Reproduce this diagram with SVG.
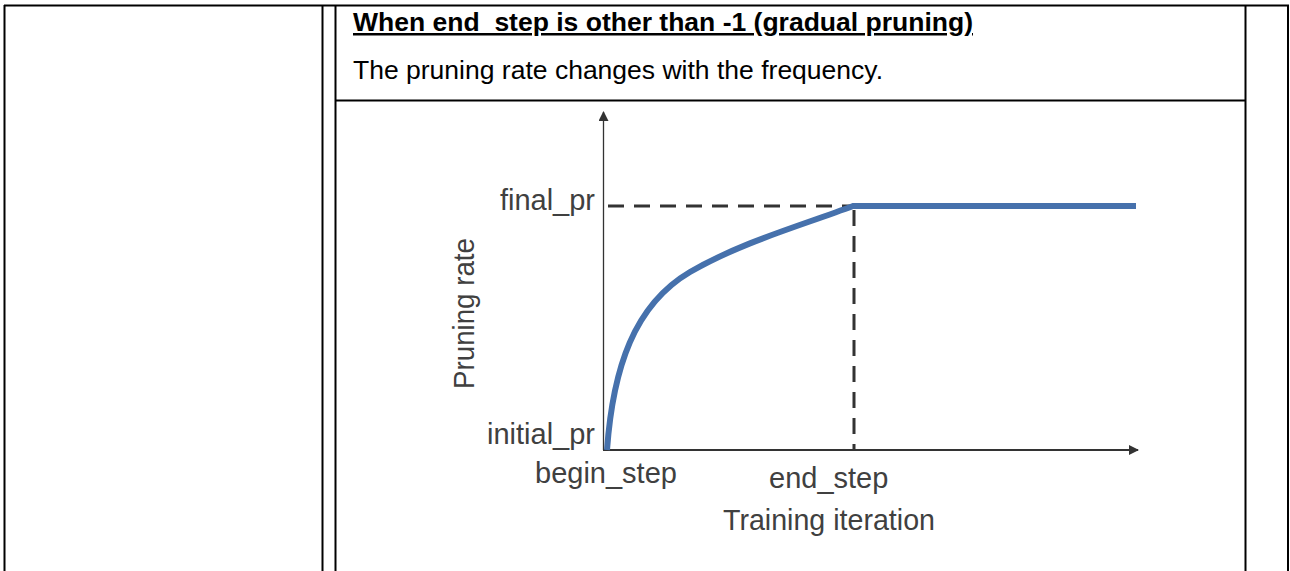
<svg xmlns="http://www.w3.org/2000/svg" width="1290" height="571" viewBox="0 0 1290 571">
<style>
.tbl{stroke:#000;stroke-width:2;fill:none}
.hdr{font-family:"Liberation Sans",Arial,sans-serif;fill:#000}
.lbl{font-family:"Liberation Sans",Arial,sans-serif;font-size:29px;fill:#404040}
.axis{stroke:#333;fill:none}
.dash{stroke:#333;stroke-width:3;stroke-dasharray:16 10;fill:none}
.curve{stroke:#4671AC;stroke-width:6;fill:none}
</style>
<defs>
<marker id="arr" viewBox="0 0 10 10" refX="9" refY="5" markerWidth="10" markerHeight="10" markerUnits="userSpaceOnUse" orient="auto">
<path d="M0,0 L10,5 L0,10 z" fill="#333"/>
</marker>
</defs>
<rect width="1290" height="571" fill="#fff"/>
<g id="table">
<line class="tbl" x1="4" y1="5.5" x2="1289" y2="5.5"/>
<line class="tbl" x1="4.5" y1="5" x2="4.5" y2="571"/>
<line class="tbl" x1="322.5" y1="5" x2="322.5" y2="571"/>
<line class="tbl" x1="335.5" y1="5" x2="335.5" y2="571"/>
<line class="tbl" x1="335" y1="100.5" x2="1246" y2="100.5"/>
<line class="tbl" x1="1245.5" y1="5" x2="1245.5" y2="571"/>
<line class="tbl" x1="1288" y1="5" x2="1288" y2="571"/>
</g>
<g id="header">
<text class="hdr" x="353" y="31" font-size="25" font-weight="bold" text-decoration="underline" textLength="620" lengthAdjust="spacingAndGlyphs">When end_step is other than -1 (gradual pruning)</text>
<text class="hdr" x="353" y="79" font-size="25" textLength="530" lengthAdjust="spacingAndGlyphs">The pruning rate changes with the frequency.</text>
</g>
<g id="connectors">
<line class="axis" stroke-width="1.3" x1="603.5" y1="450" x2="603.5" y2="112" marker-end="url(#arr)"/>
<line class="axis" stroke-width="2" x1="603" y1="450" x2="1138" y2="450" marker-end="url(#arr)"/>
<line class="dash" x1="608" y1="206" x2="852" y2="206"/>
<line class="dash" x1="854" y1="210" x2="854" y2="450"/>
<path class="curve" d="M607,450 C613,368 634,305 690,272 C742,242 800,226 853,206 L1136,206"/>
</g>
<g id="labels">
<text class="lbl" x="595" y="210" text-anchor="end">final_pr</text>
<text class="lbl" x="595" y="444" text-anchor="end">initial_pr</text>
<text class="lbl" x="535" y="483">begin_step</text>
<text class="lbl" x="769" y="488">end_step</text>
<text class="lbl" x="723" y="530" textLength="212" lengthAdjust="spacingAndGlyphs">Training iteration</text>
<text class="lbl" transform="translate(474,389) rotate(-90)" textLength="151" lengthAdjust="spacingAndGlyphs">Pruning rate</text>
</g>
</svg>
